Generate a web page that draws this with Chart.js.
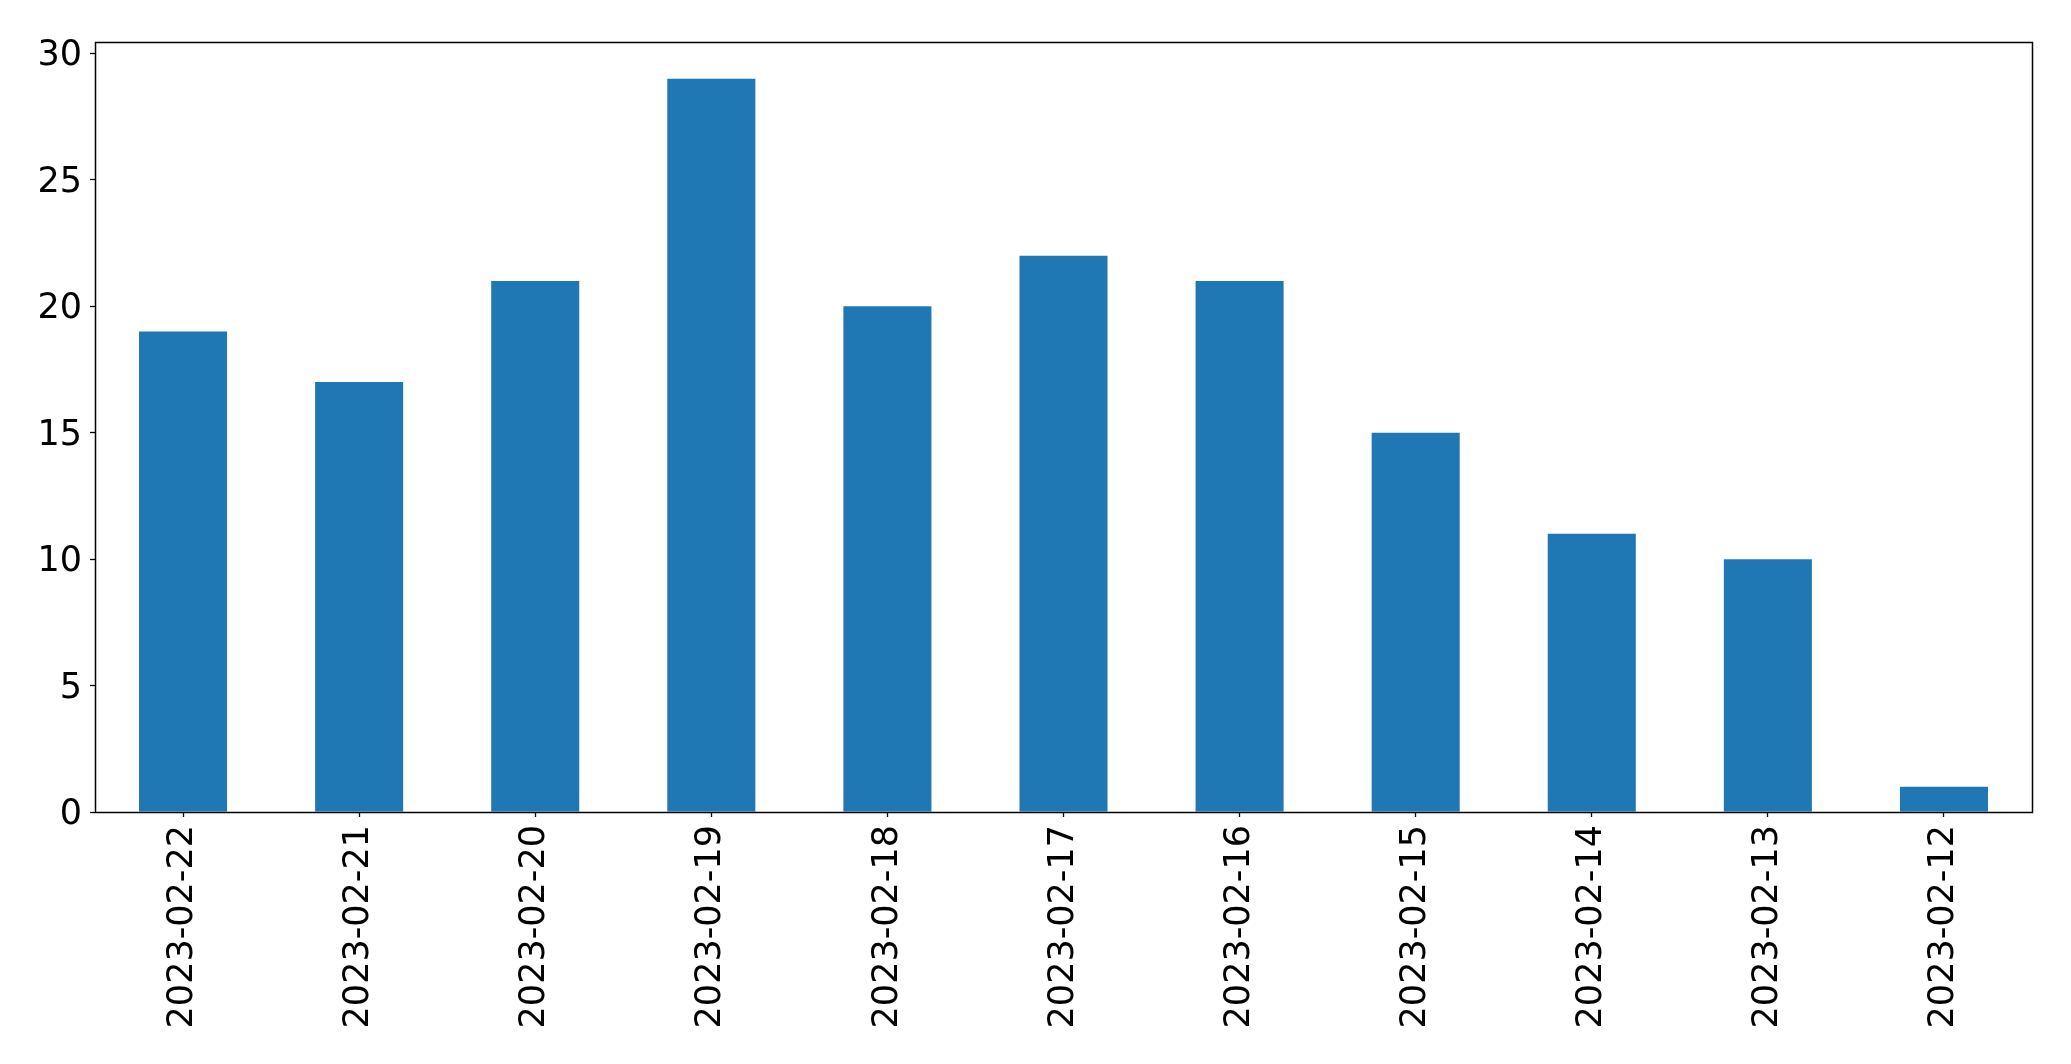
<!DOCTYPE html>
<html>
<head>
<meta charset="utf-8">
<script src="https://cdn.jsdelivr.net/npm/chart.js@4/dist/chart.umd.min.js"></script>
<style>
  html, body { margin: 0; padding: 0; background: #fff; }
  #wrap { width: 2071px; height: 1064px; position: relative; }
</style>
</head>
<body>
<div id="wrap"><canvas id="chart1"></canvas></div>
<script>
// data
const fechas = ["2023-02-22", "2023-02-21", "2023-02-20", "2023-02-19", "2023-02-18",
  "2023-02-17", "2023-02-16", "2023-02-15", "2023-02-14", "2023-02-13", "2023-02-12"];
const conteos = [19, 17, 21, 29, 20, 22, 21, 15, 11, 10, 1];
const yTicks = [0, 5, 10, 15, 20, 25, 30];

const fuente = { family: "DejaVu Sans", size: 35 };

// box around the plot area, like the matplotlib frame
const marco = {
  id: "marco",
  afterDraw(chart) {
    const a = chart.chartArea;
    const c = chart.ctx;
    c.save();
    c.strokeStyle = "#000";
    c.lineWidth = 1.5;
    c.strokeRect(Math.round(a.left) + 0.5, Math.round(a.top) + 0.5,
      Math.round(a.right - a.left), Math.round(a.bottom - a.top));
    c.restore();
  }
};

const ctx = document.getElementById("chart1").getContext("2d");
new Chart(ctx, {
  type: "bar",
  data: {
    labels: fechas,
    datasets: [{
      data: conteos,
      backgroundColor: "#1f77b4",
      borderWidth: 0,
      categoryPercentage: 1,
      barPercentage: 0.5
    }]
  },
  options: {
    responsive: true,
    maintainAspectRatio: false,
    animation: false,
    layout: { padding: { top: 42, right: 39, left: 0, bottom: 0 } },
    plugins: {
      legend: { display: false },
      tooltip: { enabled: false }
    },
    scales: {
      x: {
        offset: true,
        grid: { display: true, drawOnChartArea: false, offset: false, tickLength: 5, tickColor: "#000", tickWidth: 1.3 },
        border: { display: false },
        ticks: {
          color: "#000",
          font: fuente,
          minRotation: 90,
          maxRotation: 90,
          autoSkip: false,
          padding: 8
        },
        afterFit(scale) { scale.height = 1064 - 812; }
      },
      y: {
        min: 0,
        max: 30.45,
        grid: { display: true, drawOnChartArea: false, tickLength: 5, tickColor: "#000", tickWidth: 1.3 },
        border: { display: false },
        afterBuildTicks(scale) { scale.ticks = yTicks.map(v => ({ value: v })); },
        ticks: { color: "#000", font: fuente, padding: 8, labelOffset: 3 },
        afterFit(scale) { scale.width = 95; }
      }
    }
  },
  plugins: [marco]
});
</script>
</body>
</html>
